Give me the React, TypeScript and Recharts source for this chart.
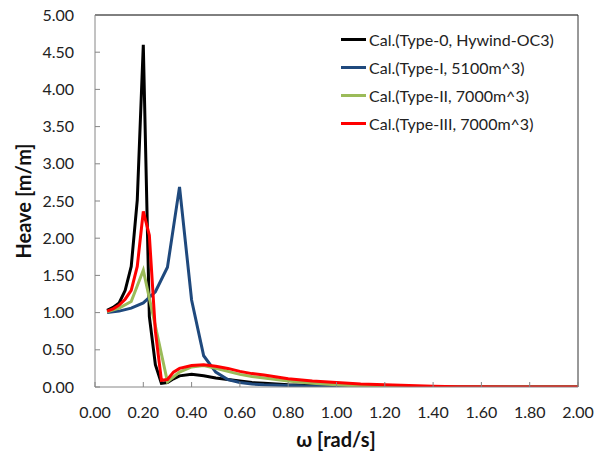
import React from "react";
import { Legend, Line, LineChart, ReferenceLine, XAxis, YAxis } from "recharts";

// omega [rad/s] samples and heave RAO [m/m] for each design
const omegaFine = [0.05, 0.075, 0.1, 0.125, 0.15, 0.175, 0.2, 0.225, 0.25, 0.275, 0.3, 0.325, 0.35, 0.4, 0.45, 0.5, 0.55, 0.6, 0.65, 0.7, 0.8, 0.9, 1.0, 1.1, 1.2, 1.3, 1.4, 1.5, 1.75, 2.0];
const type0Heave = [1.03, 1.07, 1.13, 1.3, 1.62, 2.51, 4.6, 0.95, 0.3, 0.05, 0.06, 0.11, 0.15, 0.17, 0.15, 0.12, 0.1, 0.08, 0.06, 0.05, 0.03, 0.02, 0.01, 0.01, 0.005, 0, 0, 0, 0, 0];
const type3Heave = [1.02, 1.05, 1.1, 1.18, 1.3, 1.62, 2.36, 2.04, 0.75, 0.09, 0.1, 0.2, 0.25, 0.29, 0.3, 0.28, 0.25, 0.21, 0.18, 0.16, 0.11, 0.08, 0.06, 0.04, 0.03, 0.02, 0.01, 0.005, 0, 0];

const omegaCoarse = [0.05, 0.1, 0.15, 0.2, 0.25, 0.3, 0.35, 0.4, 0.45, 0.5, 0.55, 0.6, 0.65, 0.7, 0.8, 0.9, 1.0, 1.1, 1.2, 1.5, 2.0];
const type1Heave = [1.0, 1.02, 1.06, 1.13, 1.28, 1.61, 2.69, 1.17, 0.42, 0.2, 0.1, 0.06, 0.04, 0.03, 0.02, 0.01, 0.01, 0, 0, 0, 0];
const type2Heave = [1.01, 1.06, 1.15, 1.57, 0.82, 0.07, 0.2, 0.27, 0.29, 0.25, 0.21, 0.17, 0.14, 0.12, 0.08, 0.05, 0.03, 0.01, 0.005, 0, 0];

const xTicks = [0, 0.2, 0.4, 0.6, 0.8, 1.0, 1.2, 1.4, 1.6, 1.8, 2.0];
const yTicks = [0, 0.5, 1, 1.5, 2, 2.5, 3, 3.5, 4, 4.5, 5];

const toRows = (ws: number[], vs: number[]) => ws.map((w, i) => ({ w, v: vs[i] }));

const series = [
  { name: "Cal.(Type-0, Hywind-OC3)", color: "#000000", data: toRows(omegaFine, type0Heave) },
  { name: "Cal.(Type-I, 5100m^3)", color: "#1F497D", data: toRows(omegaCoarse, type1Heave) },
  { name: "Cal.(Type-II, 7000m^3)", color: "#9BBB59", data: toRows(omegaCoarse, type2Heave) },
  { name: "Cal.(Type-III, 7000m^3)", color: "#FF0000", data: toRows(omegaFine, type3Heave) },
];

const font = "Lato, 'Liberation Sans', sans-serif";
const axisGray = "#868686";

const XTick = ({ x, y, payload }: any) => (
  <g>
    <line x1={x} x2={x} y1={y} y2={y - 5} stroke={axisGray} />
    <text x={x} y={y + 31} textAnchor="middle" fontFamily={font} fontSize={16} fill="#222">
      {Number(payload.value).toFixed(2)}
    </text>
  </g>
);

const YTick = ({ x, y, payload }: any) => (
  <g>
    <line x1={x} x2={x + 5} y1={y} y2={y} stroke={axisGray} />
    <text x={x - 21} y={y} dy="0.35em" textAnchor="end" fontFamily={font} fontSize={16} fill="#222">
      {Number(payload.value).toFixed(2)}
    </text>
  </g>
);

const LegendBox = () => (
  <div style={{ fontFamily: font, fontSize: 16, color: "#222" }}>
    {series.map((s) => (
      <div key={s.name} style={{ display: "flex", alignItems: "center", height: 28, whiteSpace: "nowrap" }}>
        <span style={{ display: "inline-block", width: 25, height: 3, background: s.color, marginRight: 3 }} />
        {s.name}
      </div>
    ))}
  </div>
);

export default function App() {
  return (
    <div style={{ position: "absolute", left: 0, top: 0, width: 602, height: 455, background: "#fff" }}>
      <LineChart width={602} height={455} margin={{ top: 15, right: 24, left: 0, bottom: 0 }}>
        <XAxis
          type="number"
          dataKey="w"
          domain={[0, 2]}
          ticks={xTicks}
          allowDataOverflow
          height={68}
          stroke={axisGray}
          tickSize={0}
          tickMargin={0}
          tick={<XTick />}
          label={{
            content: () => (
              <text x={336} y={447} textAnchor="middle" fontFamily={font} fontSize={20} fontWeight="bold" fill="#111">
                ω [rad/s]
              </text>
            ),
          }}
        />
        <YAxis
          type="number"
          dataKey="v"
          domain={[0, 5]}
          ticks={yTicks}
          allowDataOverflow
          width={95}
          stroke={axisGray}
          tickSize={0}
          tickMargin={0}
          tick={<YTick />}
          label={{
            content: () => (
              <text
                x={24}
                y={201}
                transform="rotate(-90 24 201)"
                textAnchor="middle"
                dy="0.35em"
                fontFamily={font}
                fontSize={20}
                fontWeight="bold"
                fill="#111"
              >
                Heave [m/m]
              </text>
            ),
          }}
        />
        <ReferenceLine y={5} stroke="#000" strokeWidth={1} ifOverflow="extendDomain" />
        <ReferenceLine x={2} stroke="#333" strokeWidth={1} ifOverflow="extendDomain" />
        {series.map((s) => (
          <Line
            key={s.name}
            data={s.data}
            dataKey="v"
            name={s.name}
            type="linear"
            stroke={s.color}
            strokeWidth={3}
            dot={false}
            activeDot={false}
            isAnimationActive={false}
          />
        ))}
        <Legend
          layout="vertical"
          align="center"
          verticalAlign="middle"
          wrapperStyle={{ top: 25, left: 341, width: 240 }}
          content={<LegendBox />}
        />
      </LineChart>
    </div>
  );
}
